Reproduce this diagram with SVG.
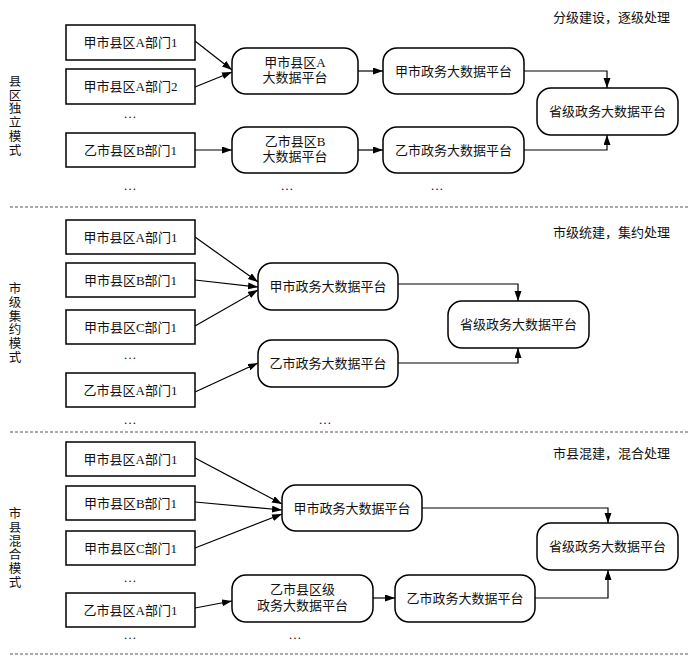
<svg xmlns="http://www.w3.org/2000/svg" width="700" height="663" viewBox="0 0 700 663">
<style>
.box{fill:#fff;stroke:#000;stroke-width:1.5}
.rbox{fill:#fff;stroke:#000;stroke-width:1.5}
.t{font-family:"Liberation Serif","Noto Sans CJK SC",serif;font-size:13px;fill:#111;text-anchor:middle}
.h{font-family:"Liberation Serif","Noto Sans CJK SC",serif;font-size:13px;fill:#111;text-anchor:start}
.v{font-family:"Liberation Serif","Noto Sans CJK SC",serif;font-size:12.5px;fill:#111;text-anchor:middle}
.c{fill:none;stroke:#000;stroke-width:1.2;marker-end:url(#ah)}
.d{stroke:#555;stroke-width:1;stroke-dasharray:3 2}
</style>
<defs>
<marker id="ah" markerUnits="userSpaceOnUse" markerWidth="11" markerHeight="8" refX="10" refY="3.5" orient="auto">
<path d="M0,0 L10,3.5 L0,7 z" fill="#000"/>
</marker>
</defs>
<rect width="700" height="663" fill="#fff"/>

<g id="dividers">
<line class="d" x1="10" y1="207" x2="690" y2="207"/>
<line class="d" x1="10" y1="432" x2="690" y2="432"/>
<line class="d" x1="10" y1="654" x2="690" y2="654"/>
</g>

<g id="labels">
<text class="h" x="553" y="22">分级建设，逐级处理</text>
<text class="h" x="553" y="237">市级统建，集约处理</text>
<text class="h" x="553" y="458">市县混建，混合处理</text>
<text class="v" x="15"><tspan x="15" y="86">县</tspan><tspan x="15" y="99.7">区</tspan><tspan x="15" y="113.4">独</tspan><tspan x="15" y="127.1">立</tspan><tspan x="15" y="140.8">模</tspan><tspan x="15" y="154.5">式</tspan></text>
<text class="v" x="15"><tspan x="15" y="293">市</tspan><tspan x="15" y="306.8">级</tspan><tspan x="15" y="320.6">集</tspan><tspan x="15" y="334.4">约</tspan><tspan x="15" y="348.2">模</tspan><tspan x="15" y="362">式</tspan></text>
<text class="v" x="15"><tspan x="15" y="518">市</tspan><tspan x="15" y="531.8">县</tspan><tspan x="15" y="545.6">混</tspan><tspan x="15" y="559.4">合</tspan><tspan x="15" y="573.2">模</tspan><tspan x="15" y="587">式</tspan></text>
<text class="t" x="130" y="118">…</text>
<text class="t" x="130" y="190">…</text>
<text class="t" x="287" y="190">…</text>
<text class="t" x="437" y="190">…</text>
<text class="t" x="130" y="359">…</text>
<text class="t" x="130" y="424">…</text>
<text class="t" x="325" y="424">…</text>
<text class="t" x="130" y="582">…</text>
<text class="t" x="130" y="639">…</text>
<text class="t" x="295" y="639">…</text>
</g>

<g id="connectors">
<line class="c" x1="195" y1="41" x2="232" y2="70"/>
<line class="c" x1="195" y1="87" x2="232" y2="72"/>
<line class="c" x1="195" y1="150" x2="232" y2="150"/>
<line class="c" x1="358" y1="71" x2="383" y2="71"/>
<line class="c" x1="358" y1="150" x2="383" y2="150"/>
<polyline class="c" points="524,71 607,71 607,88"/>
<polyline class="c" points="524,150 607,150 607,135"/>

<line class="c" x1="195" y1="237" x2="258" y2="282"/>
<line class="c" x1="195" y1="280" x2="258" y2="287"/>
<line class="c" x1="195" y1="326" x2="258" y2="290"/>
<line class="c" x1="195" y1="392" x2="258" y2="363"/>
<polyline class="c" points="398,284 518,284 518,301"/>
<polyline class="c" points="398,363 518,363 518,348"/>

<line class="c" x1="195" y1="458" x2="282" y2="504"/>
<line class="c" x1="195" y1="502" x2="282" y2="510"/>
<line class="c" x1="195" y1="548" x2="282" y2="514"/>
<line class="c" x1="195" y1="608" x2="232" y2="601"/>
<line class="c" x1="373" y1="598" x2="395" y2="598"/>
<polyline class="c" points="422,508 608,508 608,523"/>
<polyline class="c" points="535,598 608,598 608,570"/>
</g>

<g id="s1-a1"><rect class="box" x="66" y="25" width="129" height="35"/><text class="t" x="130.5" y="47">甲市县区A部门1</text></g>
<g id="s1-a2"><rect class="box" x="66" y="69" width="129" height="35"/><text class="t" x="130.5" y="91">甲市县区A部门2</text></g>
<g id="s1-b1"><rect class="box" x="66" y="133" width="129" height="34"/><text class="t" x="130.5" y="154.5">乙市县区B部门1</text></g>
<g id="s1-pa"><rect class="rbox" x="232" y="48" width="126" height="46" rx="14"/><text class="t" x="295" y="67">甲市县区A</text><text class="t" x="295" y="82">大数据平台</text></g>
<g id="s1-pb"><rect class="rbox" x="232" y="127" width="126" height="46" rx="14"/><text class="t" x="295" y="146">乙市县区B</text><text class="t" x="295" y="161">大数据平台</text></g>
<g id="s1-jia"><rect class="rbox" x="383" y="48" width="141" height="46" rx="14"/><text class="t" x="453.5" y="75.5">甲市政务大数据平台</text></g>
<g id="s1-yi"><rect class="rbox" x="383" y="127" width="141" height="46" rx="14"/><text class="t" x="453.5" y="154.5">乙市政务大数据平台</text></g>
<g id="s1-prov"><rect class="rbox" x="537" y="88" width="141" height="47" rx="14"/><text class="t" x="607.5" y="116">省级政务大数据平台</text></g>

<g id="s2-a1"><rect class="box" x="66" y="220" width="129" height="34"/><text class="t" x="130.5" y="241.5">甲市县区A部门1</text></g>
<g id="s2-b1"><rect class="box" x="66" y="263" width="129" height="34"/><text class="t" x="130.5" y="284.5">甲市县区B部门1</text></g>
<g id="s2-c1"><rect class="box" x="66" y="310" width="129" height="34"/><text class="t" x="130.5" y="331.5">甲市县区C部门1</text></g>
<g id="s2-ya1"><rect class="box" x="66" y="373" width="129" height="34"/><text class="t" x="130.5" y="394.5">乙市县区A部门1</text></g>
<g id="s2-jia"><rect class="rbox" x="258" y="263" width="140" height="47" rx="14"/><text class="t" x="328" y="291">甲市政务大数据平台</text></g>
<g id="s2-yi"><rect class="rbox" x="258" y="340" width="140" height="47" rx="14"/><text class="t" x="328" y="368">乙市政务大数据平台</text></g>
<g id="s2-prov"><rect class="rbox" x="448" y="301" width="141" height="47" rx="14"/><text class="t" x="518.5" y="329">省级政务大数据平台</text></g>

<g id="s3-a1"><rect class="box" x="66" y="442" width="129" height="34"/><text class="t" x="130.5" y="463.5">甲市县区A部门1</text></g>
<g id="s3-b1"><rect class="box" x="66" y="486" width="129" height="34"/><text class="t" x="130.5" y="507.5">甲市县区B部门1</text></g>
<g id="s3-c1"><rect class="box" x="66" y="531" width="129" height="34"/><text class="t" x="130.5" y="552.5">甲市县区C部门1</text></g>
<g id="s3-ya1"><rect class="box" x="66" y="593" width="129" height="34"/><text class="t" x="130.5" y="614.5">乙市县区A部门1</text></g>
<g id="s3-jia"><rect class="rbox" x="282" y="485" width="140" height="46" rx="14"/><text class="t" x="352" y="512.5">甲市政务大数据平台</text></g>
<g id="s3-yiq"><rect class="rbox" x="232" y="575" width="141" height="47" rx="14"/><text class="t" x="302.5" y="594">乙市县区级</text><text class="t" x="302.5" y="610">政务大数据平台</text></g>
<g id="s3-yi"><rect class="rbox" x="395" y="575" width="140" height="47" rx="14"/><text class="t" x="465" y="603">乙市政务大数据平台</text></g>
<g id="s3-prov"><rect class="rbox" x="537" y="523" width="141" height="47" rx="14"/><text class="t" x="607.5" y="551">省级政务大数据平台</text></g>
</svg>
